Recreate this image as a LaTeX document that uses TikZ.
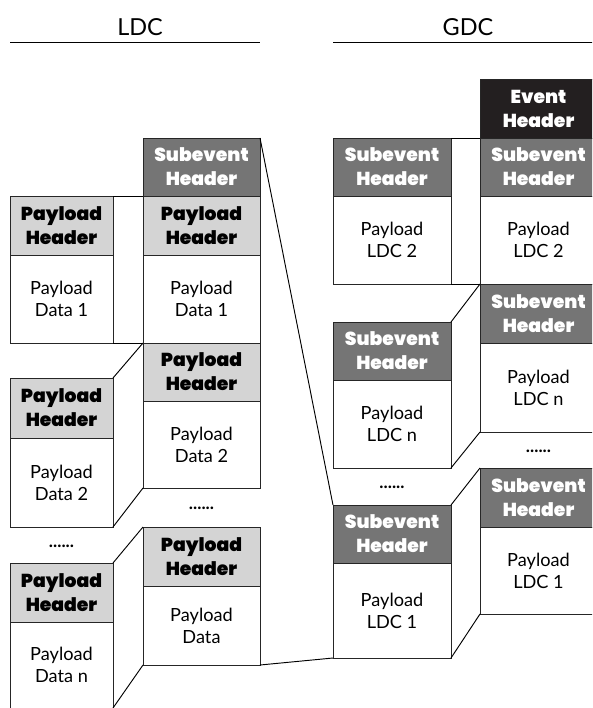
\documentclass[tikz,border=0pt]{standalone}
\usepackage{fontspec}
\setmainfont{Lato}
\newfontfamily\hdrfont{Poppins Black}
\usepackage{tikz}
\usetikzlibrary{positioning}
\colorlet{subgray}{black!54}
\colorlet{paygray}{black!17}
\definecolor{evtblack}{HTML}{231F20}

\tikzset{
  box/.style={draw=black!85, line width=0.8pt, inner sep=0pt, outer sep=0pt,
    align=center, anchor=north},
  bw/.style={minimum width=#1*0.03cm},
  bh/.style={minimum height=#1*0.03cm},
  hdrtext/.style={font=\hdrfont\fontsize{16}{20.5}\selectfont},
  subhdr/.style={box, hdrtext, fill=subgray, text=white},
  payhdr/.style={box, hdrtext, fill=paygray, text=black},
  evthdr/.style={box, hdrtext, fill=evtblack, text=white},
  databox/.style={box, fill=white, font=\fontsize{15.5}{18.8}\selectfont},
  dots/.style={font=\bfseries\fontsize{15}{15}\selectfont},
  title/.style={font=\fontsize{20}{24}\selectfont},
}

\begin{document}
\begin{tikzpicture}[x=0.03cm, y=-0.03cm]
    \useasboundingbox (0,0) rectangle (592,708);
    \clip (0,0) rectangle (592,708);

    % titles
    \node[title] (ldc) at (140,27) {LDC};
    \draw[line width=0.8pt] (10,42) -- (260,42);
    \node[title] (gdc) at (468,27) {GDC};
    \draw[line width=0.8pt] (333,42) -- (600,42);

    % LDC, one subevent
    \node[subhdr, bw=117, bh=58] (rsh) at (201.5,138) {Subevent\\Header};
    \node[payhdr, bw=117, bh=59, below=0pt of rsh] (rph1) {Payload\\Header};
    \node[databox, bw=117, bh=88, below=0pt of rph1] (rd1) {Payload\\Data 1};
    \node[payhdr, bw=117, bh=58, below=0pt of rd1] (rph2) {Payload\\Header};
    \node[databox, bw=117, bh=87, below=0pt of rph2] (rd2) {Payload\\Data 2};
    \node[dots] (rdots) at (201.5,508) {......};
    \node[payhdr, bw=117, bh=59] (rph3) at (201.5,527) {Payload\\Header};
    \node[databox, bw=117, bh=79, below=0pt of rph3] (rd3) {Payload\\Data};

    % LDC, payloads
    \node[payhdr, bw=103, bh=59] (lph1) at (61.5,196) {Payload\\Header};
    \node[databox, bw=103, bh=88, below=0pt of lph1] (ld1) {Payload\\Data 1};
    \node[payhdr, bw=103, bh=60] (lph2) at (61.5,378) {Payload\\Header};
    \node[databox, bw=103, bh=89, below=0pt of lph2] (ld2) {Payload\\Data 2};
    \node[dots] (ldots) at (61.5,546) {......};
    \node[payhdr, bw=103, bh=59] (lph3) at (61.5,563) {Payload\\Header};
    \node[databox, bw=103, bh=86, below=0pt of lph3] (ld3) {Payload\\Data n};

    % GDC, subevents
    \node[subhdr, bw=118, bh=58] (gsh2) at (392,138) {Subevent\\Header};
    \node[databox, bw=118, bh=88, below=0pt of gsh2] (gd2) {Payload\\LDC 2};
    \node[subhdr, bw=118, bh=58] (gshn) at (392,322) {Subevent\\Header};
    \node[databox, bw=118, bh=88, below=0pt of gshn] (gdn) {Payload\\LDC n};
    \node[dots] (gdots) at (392,487) {......};
    \node[subhdr, bw=118, bh=58] (gsh1) at (392,505) {Subevent\\Header};
    \node[databox, bw=118, bh=95, below=0pt of gsh1] (gd1) {Payload\\LDC 1};

    % GDC, full event
    \node[evthdr, bw=117, bh=59] (eh) at (538.5,79) {Event\\Header};
    \node[subhdr, bw=117, bh=58, below=0pt of eh] (hsh2) {Subevent\\Header};
    \node[databox, bw=117, bh=88, below=0pt of hsh2] (hd2) {Payload\\LDC 2};
    \node[subhdr, bw=117, bh=59, below=0pt of hd2] (hshn) {Subevent\\Header};
    \node[databox, bw=117, bh=89, below=0pt of hshn] (hdn) {Payload\\LDC n};
    \node[dots] (hdots) at (538.5,451) {......};
    \node[subhdr, bw=117, bh=59] (hsh1) at (538.5,468) {Subevent\\Header};
    \node[databox, bw=117, bh=87, below=0pt of hsh1] (hd1) {Payload\\LDC 1};

    % joins
    \foreach \a/\b in {lph1/rph1, lph2/rph2, lph3/rph3, gsh2/hsh2, gshn/hshn, gsh1/hsh1}
        \draw[line width=0.8pt] (\a.north east) -- (\b.north west);
    \foreach \a/\b in {ld1/rd1, ld2/rd2, ld3/rd3, gd2/hd2, gdn/hdn, gd1/hd1}
        \draw[line width=0.8pt] (\a.south east) -- (\b.south west);

    % subevent into the event
    \draw[line width=0.8pt] (rsh.north east) -- (gsh1.north west);
    \draw[line width=0.8pt] (rd3.south east) -- (gd1.south west);
  \end{tikzpicture}
\end{document}
